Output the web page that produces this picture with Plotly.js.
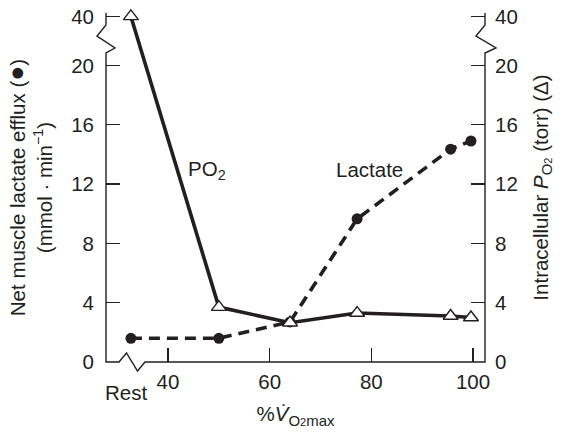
<!DOCTYPE html>
<html>
<head>
<meta charset="utf-8">
<script src="https://cdn.plot.ly/plotly-3.0.1.min.js"></script>
<style>html,body{margin:0;padding:0;background:#fff;}#chart{width:565px;height:432px;}</style>
</head>
<body>
<div id="chart"></div>
<script>
// ---- data ----
var workLabels = ['Rest', 50, 64, 77.2, 95.6, 99.6];   // % VO2max ("Rest" sits left of the break)
var lactateEfflux = [1.6, 1.6, 2.7, 9.65, 14.35, 14.9]; // mmol/min (filled circles, dashed)
var intracellularPO2 = [40, 3.7, 2.65, 3.3, 3.1, 3.0];  // torr (open triangles, solid)
var yTickLabels = ['0', '4', '8', '12', '16', '20', '40'];
var xTickLabels = ['40', '60', '80', '100'];

// ---- axis-break mapping (layout, not data) ----
var REST_POS = 32.7;         // where "Rest" is drawn on the broken x axis
var BREAK_Y_POS = 23.3;      // where 40 is drawn on the broken y axes
function mapX(v) { return v === 'Rest' ? REST_POS : v; }
function mapY(v) { return v > 20 ? BREAK_Y_POS : v; }

var xs = workLabels.map(mapX);
var yTickVals = yTickLabels.map(function (t) { return mapY(+t); });
var xTickVals = xTickLabels.map(Number);

var FONT = {family: 'Liberation Sans, Arial, sans-serif', size: 20.5, color: '#231f20'};
var INK = '#231f20';

// pixel -> paper helpers for the axis lines with break marks
var L = 106, R = 485, T = 13, B = 362;
var XR = [27.8, 102.36];
function px(x) { return (x - L) / (R - L); }
function py(y) { return (B - y) / (B - T); }
function pxToX(p) { return XR[0] + (p - L) / (R - L) * (XR[1] - XR[0]); }
function path(pts) {
  return pts.map(function (p, i) { return (i ? 'L' : 'M') + px(p[0]) + ',' + py(p[1]); }).join(' ');
}
var axisPath = path([
  [L, T], [L, 25], [97, 36], [115, 48], [L, 53], [L, B],
  [119, B], [126.5, 353], [137.5, 371], [145, B], [R, B],
  [R, 53], [496, 48], [476, 36], [R, 25], [R, T]
]);

var traces = [
  {
    x: xs, y: intracellularPO2.map(mapY), yaxis: 'y2',
    mode: 'lines+markers', name: 'PO2',
    line: {color: INK, width: 3.6},
    marker: {symbol: 'triangle-up', size: 13, color: '#fff', line: {color: INK, width: 1.4}},
    cliponaxis: false, showlegend: false, hoverinfo: 'x+y'
  },
  {
    x: xs, y: lactateEfflux.map(mapY), yaxis: 'y',
    mode: 'lines+markers', name: 'Lactate',
    line: {color: INK, width: 3.6, dash: '11px,7px'},
    marker: {symbol: 'circle', size: 11, color: INK},
    cliponaxis: false, showlegend: false, hoverinfo: 'x+y'
  }
];

var yCommon = {
  range: [0, 23.53], tickmode: 'array', tickvals: yTickVals, ticktext: yTickLabels,
  ticks: 'inside', ticklen: 14, tickwidth: 1.3, tickcolor: INK,
  showline: false, showgrid: false, zeroline: false, fixedrange: true,
  tickfont: FONT
};

var SUB_O2 = '<sub><span style="font-size:15px">O</span><span style="font-size:11px">2</span></sub>';

var layout = {
  width: 565, height: 432,
  margin: {l: L, r: 565 - R, t: T, b: 432 - B},
  paper_bgcolor: '#fff', plot_bgcolor: '#fff',
  font: FONT, showlegend: false,
  xaxis: {
    range: XR, tickmode: 'array', tickvals: xTickVals, ticktext: xTickLabels,
    ticks: 'inside', ticklen: 14, tickwidth: 1.3, tickcolor: INK,
    showline: false, showgrid: false, zeroline: false, fixedrange: true,
    tickfont: FONT, ticklabelstandoff: 5,
    title: {text: '%<i>V̇</i><sub><span style="font-size:15px">O</span><span style="font-size:11px">2</span><span style="font-size:15px">max</span></sub>', font: FONT, standoff: 15}
  },
  yaxis: Object.assign({}, yCommon, {
    ticklabelstandoff: 11,
    title: {text: 'Net muscle lactate efflux (<span style="font-size:25px">●</span>)<br>(mmol · min<sup>−1</sup>)', font: FONT, standoff: 13}
  }),
  yaxis2: Object.assign({}, yCommon, {
    overlaying: 'y', side: 'right', ticklabelstandoff: 9,
    title: {text: 'Intracellular <i>P</i>' + SUB_O2 + ' (torr) (Δ)', font: FONT, standoff: 16}
  }),
  shapes: [
    {type: 'path', xref: 'paper', yref: 'paper', path: axisPath, line: {color: INK, width: 1.4}, layer: 'above'}
  ],
  annotations: [
    {x: pxToX(126), xref: 'x', y: py(392), yref: 'paper', text: 'Rest', showarrow: false, font: FONT, xanchor: 'center', yanchor: 'middle'},
    {x: pxToX(207), xref: 'x', y: py(170), yref: 'paper', text: 'PO<sub>2</sub>', showarrow: false, font: FONT, xanchor: 'center', yanchor: 'middle'},
    {x: pxToX(369), xref: 'x', y: py(169), yref: 'paper', text: 'Lactate', showarrow: false, font: FONT, xanchor: 'center', yanchor: 'middle'}
  ]
};

Plotly.newPlot('chart', traces, layout, {displayModeBar: false, staticPlot: true});
</script>
</body>
</html>
